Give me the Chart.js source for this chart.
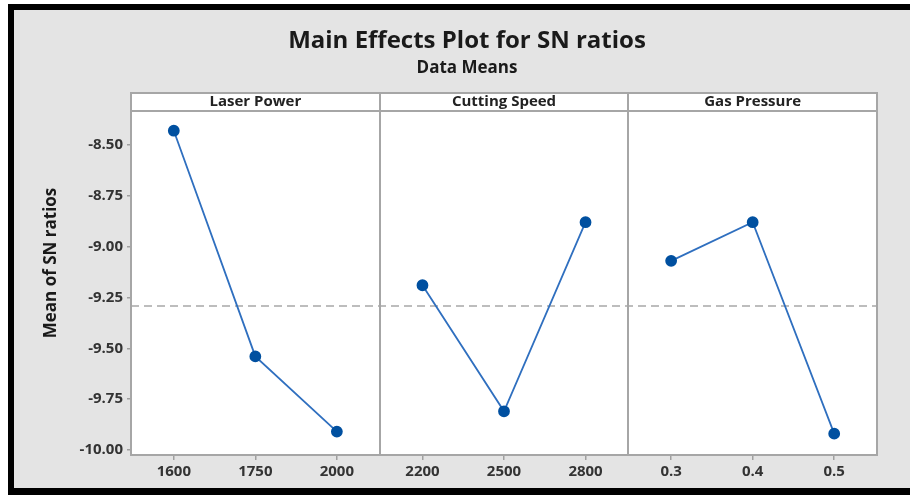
<!DOCTYPE html>
<html>
<head>
<meta charset="utf-8">
<script src="https://cdn.jsdelivr.net/npm/chart.js@4.4.1/dist/chart.umd.min.js"></script>
<style>
  body { margin: 0; background: #fff; }
  #wrap { position: relative; width: 910px; height: 495px; overflow: hidden; }
  #frame {
    position: absolute; left: 8px; top: 4px; width: 910px; height: 478px;
    background: #e4e4e4; border-left: 6px solid #000; border-top: 6px solid #000;
    border-bottom: 7px solid #000;
  }
  #chart1 { position: absolute; left: 0; top: 0; }
</style>
</head>
<body>
<div id="wrap">
  <div id="frame"></div>
  <canvas id="chart1" width="910" height="495"></canvas>
</div>
<script>
var factors = ["Laser Power", "Cutting Speed", "Gas Pressure"];
var laserLevels = ["1600", "1750", "2000"];
var speedLevels = ["2200", "2500", "2800"];
var pressureLevels = ["0.3", "0.4", "0.5"];
var laserSN = [-8.43, -9.54, -9.91];
var speedSN = [-9.19, -9.81, -8.88];
var pressureSN = [-9.07, -8.88, -9.92];
var yTicks = [-10.0, -9.75, -9.5, -9.25, -9.0, -8.75, -8.5];

var levels = [laserLevels, speedLevels, pressureLevels];
var values = [laserSN, speedSN, pressureSN];

// each panel takes 3.05 units on the x scale, levels sit at 0,1,2 inside it
var panelWidth = 3.05;
var panelPad = 0.525;

var allVals = [].concat(laserSN, speedSN, pressureSN);
var grandMean = allVals.reduce(function(a, b) { return a + b; }, 0) / allVals.length;

var tickPos = [];
var tickText = [];
var datasets = values.map(function(vals, p) {
  return {
    label: factors[p],
    data: vals.map(function(v, i) {
      tickPos.push(p * panelWidth + i);
      tickText.push(levels[p][i]);
      return {x: p * panelWidth + i, y: v};
    }),
    borderColor: "#2f6fbf",
    borderWidth: 1.8,
    pointBackgroundColor: "#0050a0",
    pointBorderColor: "#0050a0",
    pointRadius: 5,
    pointHoverRadius: 5,
    fill: false,
    tension: 0
  };
});

var font = "'Open Sans', 'DejaVu Sans', sans-serif";

var panels = {
  id: 'panels',
  beforeDatasetsDraw: function(chart) {
    var ctx = chart.ctx, a = chart.chartArea;
    var xs = chart.scales.x, ys = chart.scales.y;
    ctx.save();
    ctx.fillStyle = "#fff";
    ctx.fillRect(a.left, a.top - 18, a.right - a.left, a.bottom - a.top + 18);

    // grand mean reference line
    var ym = ys.getPixelForValue(grandMean);
    ctx.strokeStyle = "#a8a8a8";
    ctx.lineWidth = 1.5;
    ctx.setLineDash([8, 5]);
    ctx.beginPath();
    ctx.moveTo(a.left, ym);
    ctx.lineTo(a.right, ym);
    ctx.stroke();
    ctx.setLineDash([]);

    // frame, header strip and panel dividers
    ctx.strokeStyle = "#a6a6a6";
    ctx.lineWidth = 2;
    ctx.strokeRect(a.left, a.top - 18, a.right - a.left, a.bottom - a.top + 18);
    ctx.beginPath();
    ctx.moveTo(a.left, a.top);
    ctx.lineTo(a.right, a.top);
    for (var p = 1; p < factors.length; p++) {
      var xd = Math.round(xs.getPixelForValue(p * panelWidth - panelPad));
      ctx.moveTo(xd, a.top - 18);
      ctx.lineTo(xd, a.bottom);
    }
    ctx.stroke();

    ctx.fillStyle = "#222";
    ctx.font = "bold 15px " + font;
    ctx.textAlign = "center";
    ctx.textBaseline = "middle";
    factors.forEach(function(f, p) {
      var l = xs.getPixelForValue(p * panelWidth - panelPad);
      var r = xs.getPixelForValue((p + 1) * panelWidth - panelPad);
      ctx.fillText(f, (l + r) / 2, a.top - 9);
    });
    ctx.restore();
  },
  afterDraw: function(chart) {
    var ctx = chart.ctx;
    ctx.save();
    ctx.fillStyle = "#1a1a1a";
    ctx.textAlign = "center";
    ctx.textBaseline = "middle";
    ctx.font = "bold 24px " + font;
    ctx.fillText("Main Effects Plot for SN ratios", 467, 41);
    ctx.font = "bold 17px " + font;
    ctx.fillText("Data Means", 467, 68);
    ctx.translate(51, 263);
    ctx.rotate(-Math.PI / 2);
    ctx.font = "bold 17px " + font;
    ctx.fillText("Mean of SN ratios", 0, 0);
    ctx.restore();
  }
};

var ctx = document.getElementById("chart1").getContext("2d");
var chart1 = new Chart(ctx, {
  type: 'line',
  data: {datasets: datasets},
  options: {
    responsive: false,
    animation: false,
    devicePixelRatio: 1,
    layout: {padding: {top: 111, right: 33, left: 0, bottom: 0}},
    plugins: {legend: {display: false}, tooltip: {enabled: false}},
    scales: {
      x: {
        type: 'linear',
        min: -panelPad,
        max: factors.length * panelWidth - panelPad,
        afterBuildTicks: function(scale) {
          scale.ticks = tickPos.map(function(v) { return {value: v}; });
        },
        afterFit: function(scale) { scale.height = 40; },
        border: {display: false},
        grid: {drawOnChartArea: false, tickLength: 5, color: "#a0a0a0", lineWidth: 1.5},
        ticks: {
          padding: 3,
          color: "#333",
          font: {family: font, size: 15, weight: 'bold'},
          callback: function(v, i) { return tickText[i]; }
        }
      },
      y: {
        min: -10.025,
        max: -8.333,
        afterBuildTicks: function(scale) {
          scale.ticks = yTicks.map(function(v) { return {value: v}; });
        },
        afterFit: function(scale) { scale.width = 131; },
        border: {display: false},
        grid: {drawOnChartArea: false, tickLength: 4, color: "#a0a0a0", lineWidth: 1.5},
        ticks: {
          padding: 4,
          color: "#333",
          font: {family: font, size: 15, weight: 'bold'},
          callback: function(v) { return v.toFixed(2); }
        }
      }
    }
  },
  plugins: [panels]
});
</script>
</body>
</html>
